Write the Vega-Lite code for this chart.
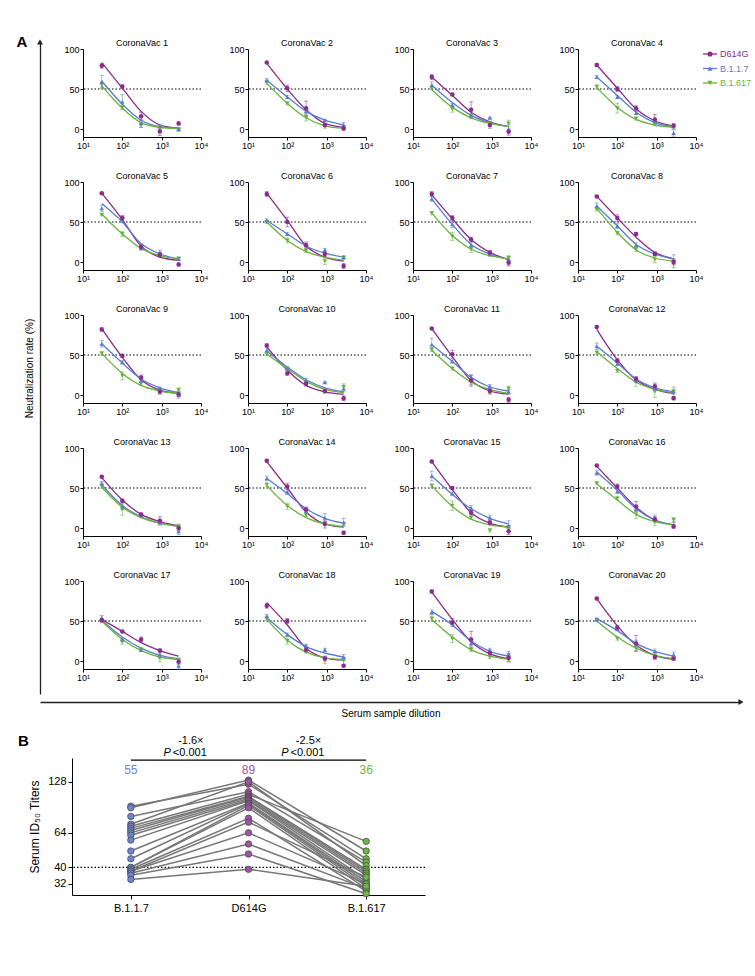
{
  "$schema": "https://vega.github.io/schema/vega-lite/v6.json",
  "padding": {"left": 16, "top": 35, "right": 5, "bottom": 5},
  "background": "white",
  "config": {
    "font": "Liberation Sans",
    "view": {"stroke": null},
    "axis": {"grid": false, "domainColor": "#000", "tickColor": "#000", "labelColor": "#000", "titleColor": "#000", "titleFontWeight": "normal", "labelFont": "Liberation Sans", "titleFont": "Liberation Sans"},
    "text": {"font": "Liberation Sans"}
  },
  "datasets": {
    "pts": [
      {"p":1,"v":"D614G","d":30,"y":79,"e":3,"f":83},{"p":1,"v":"D614G","d":100,"y":53,"e":2,"f":51},{"p":1,"v":"D614G","d":300,"y":16,"e":5,"f":22},{"p":1,"v":"D614G","d":900,"y":-3,"e":5,"f":5},{"p":1,"v":"D614G","d":2700,"y":7,"e":2,"f":1},
      {"p":1,"v":"B.1.1.7","d":30,"y":59,"e":8,"f":60},{"p":1,"v":"B.1.1.7","d":100,"y":34,"e":9,"f":31},{"p":1,"v":"B.1.1.7","d":300,"y":7,"e":5,"f":11},{"p":1,"v":"B.1.1.7","d":900,"y":3,"e":3,"f":3},{"p":1,"v":"B.1.1.7","d":2700,"y":0,"e":2,"f":1},
      {"p":1,"v":"B.1.617","d":30,"y":55,"e":3,"f":54},{"p":1,"v":"B.1.617","d":100,"y":27,"e":3,"f":26},{"p":1,"v":"B.1.617","d":300,"y":5,"e":3,"f":8},{"p":1,"v":"B.1.617","d":900,"y":2,"e":2,"f":2},{"p":1,"v":"B.1.617","d":2700,"y":-1,"e":2,"f":0.5},
      {"p":2,"v":"D614G","d":30,"y":83,"e":1,"f":82},{"p":2,"v":"D614G","d":100,"y":51,"e":4,"f":50},{"p":2,"v":"D614G","d":300,"y":26,"e":9,"f":24},{"p":2,"v":"D614G","d":900,"y":5,"e":2,"f":7},{"p":2,"v":"D614G","d":2700,"y":1,"e":3,"f":2},
      {"p":2,"v":"B.1.1.7","d":30,"y":61,"e":2,"f":61},{"p":2,"v":"B.1.1.7","d":100,"y":40,"e":2,"f":40},{"p":2,"v":"B.1.1.7","d":300,"y":22,"e":2,"f":22},{"p":2,"v":"B.1.1.7","d":900,"y":11,"e":1,"f":11},{"p":2,"v":"B.1.1.7","d":2700,"y":5,"e":3,"f":5},
      {"p":2,"v":"B.1.617","d":30,"y":58,"e":2,"f":57},{"p":2,"v":"B.1.617","d":100,"y":32,"e":2,"f":32},{"p":2,"v":"B.1.617","d":300,"y":14,"e":4,"f":14},{"p":2,"v":"B.1.617","d":900,"y":3,"e":2,"f":4},{"p":2,"v":"B.1.617","d":2700,"y":1,"e":2,"f":1},
      {"p":3,"v":"D614G","d":30,"y":65,"e":3,"f":65},{"p":3,"v":"D614G","d":100,"y":43,"e":1,"f":42},{"p":3,"v":"D614G","d":300,"y":24,"e":10,"f":21},{"p":3,"v":"D614G","d":900,"y":5,"e":4,"f":9},{"p":3,"v":"D614G","d":2700,"y":-3,"e":3,"f":3},
      {"p":3,"v":"B.1.1.7","d":30,"y":55,"e":4,"f":55},{"p":3,"v":"B.1.1.7","d":100,"y":30,"e":2,"f":33},{"p":3,"v":"B.1.1.7","d":300,"y":17,"e":2,"f":17},{"p":3,"v":"B.1.1.7","d":900,"y":14,"e":1,"f":8},{"p":3,"v":"B.1.1.7","d":2700,"y":-1,"e":7,"f":3},
      {"p":3,"v":"B.1.617","d":30,"y":51,"e":2,"f":49},{"p":3,"v":"B.1.617","d":100,"y":25,"e":4,"f":27},{"p":3,"v":"B.1.617","d":300,"y":16,"e":3,"f":14},{"p":3,"v":"B.1.617","d":900,"y":7,"e":3,"f":7},{"p":3,"v":"B.1.617","d":2700,"y":7,"e":4,"f":3},
      {"p":4,"v":"D614G","d":30,"y":80,"e":2,"f":80},{"p":4,"v":"D614G","d":100,"y":50,"e":3,"f":51},{"p":4,"v":"D614G","d":300,"y":26,"e":3,"f":25},{"p":4,"v":"D614G","d":900,"y":12,"e":6,"f":10},{"p":4,"v":"D614G","d":2700,"y":4,"e":3,"f":4},
      {"p":4,"v":"B.1.1.7","d":30,"y":65,"e":2,"f":65},{"p":4,"v":"B.1.1.7","d":100,"y":40,"e":2,"f":42},{"p":4,"v":"B.1.1.7","d":300,"y":20,"e":2,"f":21},{"p":4,"v":"B.1.1.7","d":900,"y":10,"e":2,"f":8},{"p":4,"v":"B.1.1.7","d":2700,"y":-5,"e":4,"f":3},
      {"p":4,"v":"B.1.617","d":30,"y":53,"e":2,"f":52},{"p":4,"v":"B.1.617","d":100,"y":26,"e":6,"f":27},{"p":4,"v":"B.1.617","d":300,"y":13,"e":2,"f":12},{"p":4,"v":"B.1.617","d":900,"y":6,"e":2,"f":5},{"p":4,"v":"B.1.617","d":2700,"y":2,"e":2,"f":2},
      {"p":5,"v":"D614G","d":30,"y":86,"e":1,"f":86},{"p":5,"v":"D614G","d":100,"y":55,"e":3,"f":53},{"p":5,"v":"D614G","d":300,"y":19,"e":2,"f":20},{"p":5,"v":"D614G","d":900,"y":9,"e":3,"f":6},{"p":5,"v":"D614G","d":2700,"y":-3,"e":2,"f":2},
      {"p":5,"v":"B.1.1.7","d":30,"y":67,"e":4,"f":73},{"p":5,"v":"B.1.1.7","d":100,"y":52,"e":3,"f":50},{"p":5,"v":"B.1.1.7","d":300,"y":17,"e":2,"f":23},{"p":5,"v":"B.1.1.7","d":900,"y":12,"e":3,"f":10},{"p":5,"v":"B.1.1.7","d":2700,"y":4,"e":2,"f":4},
      {"p":5,"v":"B.1.617","d":30,"y":59,"e":1,"f":60},{"p":5,"v":"B.1.617","d":100,"y":35,"e":3,"f":35},{"p":5,"v":"B.1.617","d":300,"y":19,"e":2,"f":17},{"p":5,"v":"B.1.617","d":900,"y":9,"e":2,"f":8},{"p":5,"v":"B.1.617","d":2700,"y":4,"e":2,"f":4},
      {"p":6,"v":"D614G","d":30,"y":85,"e":3,"f":86},{"p":6,"v":"D614G","d":100,"y":50,"e":6,"f":52},{"p":6,"v":"D614G","d":300,"y":21,"e":4,"f":20},{"p":6,"v":"D614G","d":900,"y":10,"e":3,"f":6},{"p":6,"v":"D614G","d":2700,"y":-5,"e":3,"f":1},
      {"p":6,"v":"B.1.1.7","d":30,"y":52,"e":2,"f":52},{"p":6,"v":"B.1.1.7","d":100,"y":35,"e":2,"f":35},{"p":6,"v":"B.1.1.7","d":300,"y":21,"e":2,"f":20},{"p":6,"v":"B.1.1.7","d":900,"y":15,"e":2,"f":11},{"p":6,"v":"B.1.1.7","d":2700,"y":6,"e":2,"f":6},
      {"p":6,"v":"B.1.617","d":30,"y":50,"e":2,"f":50},{"p":6,"v":"B.1.617","d":100,"y":27,"e":3,"f":27},{"p":6,"v":"B.1.617","d":300,"y":14,"e":2,"f":13},{"p":6,"v":"B.1.617","d":900,"y":1,"e":4,"f":6},{"p":6,"v":"B.1.617","d":2700,"y":5,"e":2,"f":2},
      {"p":7,"v":"D614G","d":30,"y":85,"e":3,"f":84},{"p":7,"v":"D614G","d":100,"y":55,"e":3,"f":54},{"p":7,"v":"D614G","d":300,"y":28,"e":3,"f":28},{"p":7,"v":"D614G","d":900,"y":12,"e":2,"f":12},{"p":7,"v":"D614G","d":2700,"y":-1,"e":4,"f":3},
      {"p":7,"v":"B.1.1.7","d":30,"y":79,"e":3,"f":79},{"p":7,"v":"B.1.1.7","d":100,"y":47,"e":4,"f":47},{"p":7,"v":"B.1.1.7","d":300,"y":21,"e":3,"f":22},{"p":7,"v":"B.1.1.7","d":900,"y":10,"e":2,"f":10},{"p":7,"v":"B.1.1.7","d":2700,"y":3,"e":3,"f":3},
      {"p":7,"v":"B.1.617","d":30,"y":61,"e":2,"f":61},{"p":7,"v":"B.1.617","d":100,"y":32,"e":5,"f":33},{"p":7,"v":"B.1.617","d":300,"y":16,"e":4,"f":16},{"p":7,"v":"B.1.617","d":900,"y":9,"e":2,"f":8},{"p":7,"v":"B.1.617","d":2700,"y":5,"e":3,"f":4},
      {"p":8,"v":"D614G","d":30,"y":82,"e":1,"f":82},{"p":8,"v":"D614G","d":100,"y":55,"e":4,"f":55},{"p":8,"v":"D614G","d":300,"y":35,"e":2,"f":31},{"p":8,"v":"D614G","d":900,"y":10,"e":2,"f":12},{"p":8,"v":"D614G","d":2700,"y":0,"e":3,"f":4},
      {"p":8,"v":"B.1.1.7","d":30,"y":70,"e":4,"f":70},{"p":8,"v":"B.1.1.7","d":100,"y":45,"e":3,"f":45},{"p":8,"v":"B.1.1.7","d":300,"y":21,"e":3,"f":22},{"p":8,"v":"B.1.1.7","d":900,"y":11,"e":2,"f":10},{"p":8,"v":"B.1.1.7","d":2700,"y":1,"e":8,"f":4},
      {"p":8,"v":"B.1.617","d":30,"y":66,"e":2,"f":67},{"p":8,"v":"B.1.617","d":100,"y":36,"e":2,"f":37},{"p":8,"v":"B.1.617","d":300,"y":16,"e":3,"f":15},{"p":8,"v":"B.1.617","d":900,"y":3,"e":4,"f":5},{"p":8,"v":"B.1.617","d":2700,"y":0,"e":4,"f":1},
      {"p":9,"v":"D614G","d":30,"y":82,"e":2,"f":83},{"p":9,"v":"D614G","d":100,"y":49,"e":2,"f":47},{"p":9,"v":"D614G","d":300,"y":22,"e":3,"f":19},{"p":9,"v":"D614G","d":900,"y":4,"e":3,"f":6},{"p":9,"v":"D614G","d":2700,"y":1,"e":3,"f":2},
      {"p":9,"v":"B.1.1.7","d":30,"y":64,"e":4,"f":64},{"p":9,"v":"B.1.1.7","d":100,"y":41,"e":2,"f":40},{"p":9,"v":"B.1.1.7","d":300,"y":18,"e":2,"f":20},{"p":9,"v":"B.1.1.7","d":900,"y":8,"e":2,"f":9},{"p":9,"v":"B.1.1.7","d":2700,"y":0,"e":4,"f":3},
      {"p":9,"v":"B.1.617","d":30,"y":52,"e":2,"f":52},{"p":9,"v":"B.1.617","d":100,"y":24,"e":5,"f":27},{"p":9,"v":"B.1.617","d":300,"y":14,"e":2,"f":12},{"p":9,"v":"B.1.617","d":900,"y":6,"e":2,"f":5},{"p":9,"v":"B.1.617","d":2700,"y":6,"e":3,"f":2},
      {"p":10,"v":"D614G","d":30,"y":62,"e":2,"f":60},{"p":10,"v":"D614G","d":100,"y":27,"e":2,"f":31},{"p":10,"v":"D614G","d":300,"y":14,"e":3,"f":12},{"p":10,"v":"D614G","d":900,"y":5,"e":2,"f":4},{"p":10,"v":"D614G","d":2700,"y":-4,"e":3,"f":1},
      {"p":10,"v":"B.1.1.7","d":30,"y":56,"e":3,"f":55},{"p":10,"v":"B.1.1.7","d":100,"y":33,"e":2,"f":35},{"p":10,"v":"B.1.1.7","d":300,"y":18,"e":3,"f":19},{"p":10,"v":"B.1.1.7","d":900,"y":16,"e":1,"f":9},{"p":10,"v":"B.1.1.7","d":2700,"y":8,"e":4,"f":4},
      {"p":10,"v":"B.1.617","d":30,"y":51,"e":2,"f":51},{"p":10,"v":"B.1.617","d":100,"y":33,"e":2,"f":33},{"p":10,"v":"B.1.617","d":300,"y":16,"e":2,"f":17},{"p":10,"v":"B.1.617","d":900,"y":4,"e":2,"f":7},{"p":10,"v":"B.1.617","d":2700,"y":10,"e":4,"f":3},
      {"p":11,"v":"D614G","d":30,"y":83,"e":1,"f":83},{"p":11,"v":"D614G","d":100,"y":51,"e":5,"f":48},{"p":11,"v":"D614G","d":300,"y":18,"e":7,"f":18},{"p":11,"v":"D614G","d":900,"y":5,"e":3,"f":5},{"p":11,"v":"D614G","d":2700,"y":-6,"e":3,"f":1},
      {"p":11,"v":"B.1.1.7","d":30,"y":63,"e":8,"f":63},{"p":11,"v":"B.1.1.7","d":100,"y":42,"e":2,"f":42},{"p":11,"v":"B.1.1.7","d":300,"y":22,"e":3,"f":22},{"p":11,"v":"B.1.1.7","d":900,"y":11,"e":2,"f":10},{"p":11,"v":"B.1.1.7","d":2700,"y":4,"e":3,"f":5},
      {"p":11,"v":"B.1.617","d":30,"y":57,"e":2,"f":56},{"p":11,"v":"B.1.617","d":100,"y":33,"e":2,"f":33},{"p":11,"v":"B.1.617","d":300,"y":16,"e":3,"f":16},{"p":11,"v":"B.1.617","d":900,"y":4,"e":3,"f":7},{"p":11,"v":"B.1.617","d":2700,"y":8,"e":3,"f":2},
      {"p":12,"v":"D614G","d":30,"y":85,"e":1,"f":82},{"p":12,"v":"D614G","d":100,"y":43,"e":2,"f":44},{"p":12,"v":"D614G","d":300,"y":20,"e":3,"f":19},{"p":12,"v":"D614G","d":900,"y":11,"e":4,"f":7},{"p":12,"v":"D614G","d":2700,"y":-4,"e":2,"f":2},
      {"p":12,"v":"B.1.1.7","d":30,"y":61,"e":4,"f":61},{"p":12,"v":"B.1.1.7","d":100,"y":39,"e":2,"f":40},{"p":12,"v":"B.1.1.7","d":300,"y":18,"e":2,"f":20},{"p":12,"v":"B.1.1.7","d":900,"y":8,"e":2,"f":9},{"p":12,"v":"B.1.1.7","d":2700,"y":4,"e":6,"f":4},
      {"p":12,"v":"B.1.617","d":30,"y":53,"e":2,"f":54},{"p":12,"v":"B.1.617","d":100,"y":30,"e":2,"f":33},{"p":12,"v":"B.1.617","d":300,"y":16,"e":5,"f":16},{"p":12,"v":"B.1.617","d":900,"y":4,"e":7,"f":7},{"p":12,"v":"B.1.617","d":2700,"y":4,"e":3,"f":3},
      {"p":13,"v":"D614G","d":30,"y":64,"e":1,"f":63},{"p":13,"v":"D614G","d":100,"y":34,"e":2,"f":35},{"p":13,"v":"D614G","d":300,"y":17,"e":2,"f":17},{"p":13,"v":"D614G","d":900,"y":9,"e":5,"f":8},{"p":13,"v":"D614G","d":2700,"y":0,"e":3,"f":3},
      {"p":13,"v":"B.1.1.7","d":30,"y":56,"e":2,"f":54},{"p":13,"v":"B.1.1.7","d":100,"y":27,"e":4,"f":28},{"p":13,"v":"B.1.1.7","d":300,"y":16,"e":2,"f":14},{"p":13,"v":"B.1.1.7","d":900,"y":7,"e":2,"f":6},{"p":13,"v":"B.1.1.7","d":2700,"y":-4,"e":4,"f":2},
      {"p":13,"v":"B.1.617","d":30,"y":52,"e":2,"f":51},{"p":13,"v":"B.1.617","d":100,"y":23,"e":7,"f":26},{"p":13,"v":"B.1.617","d":300,"y":15,"e":2,"f":13},{"p":13,"v":"B.1.617","d":900,"y":6,"e":2,"f":6},{"p":13,"v":"B.1.617","d":2700,"y":2,"e":3,"f":2},
      {"p":14,"v":"D614G","d":30,"y":84,"e":1,"f":83},{"p":14,"v":"D614G","d":100,"y":52,"e":4,"f":50},{"p":14,"v":"D614G","d":300,"y":23,"e":3,"f":20},{"p":14,"v":"D614G","d":900,"y":5,"e":5,"f":5},{"p":14,"v":"D614G","d":2700,"y":-6,"e":2,"f":1},
      {"p":14,"v":"B.1.1.7","d":30,"y":62,"e":3,"f":62},{"p":14,"v":"B.1.1.7","d":100,"y":45,"e":3,"f":43},{"p":14,"v":"B.1.1.7","d":300,"y":21,"e":3,"f":24},{"p":14,"v":"B.1.1.7","d":900,"y":13,"e":5,"f":12},{"p":14,"v":"B.1.1.7","d":2700,"y":7,"e":5,"f":6},
      {"p":14,"v":"B.1.617","d":30,"y":54,"e":2,"f":53},{"p":14,"v":"B.1.617","d":100,"y":27,"e":4,"f":28},{"p":14,"v":"B.1.617","d":300,"y":16,"e":2,"f":13},{"p":14,"v":"B.1.617","d":900,"y":6,"e":2,"f":5},{"p":14,"v":"B.1.617","d":2700,"y":5,"e":2,"f":2},
      {"p":15,"v":"D614G","d":30,"y":83,"e":1,"f":83},{"p":15,"v":"D614G","d":100,"y":50,"e":2,"f":48},{"p":15,"v":"D614G","d":300,"y":19,"e":3,"f":19},{"p":15,"v":"D614G","d":900,"y":7,"e":3,"f":6},{"p":15,"v":"D614G","d":2700,"y":-4,"e":4,"f":1},
      {"p":15,"v":"B.1.1.7","d":30,"y":65,"e":6,"f":65},{"p":15,"v":"B.1.1.7","d":100,"y":43,"e":2,"f":42},{"p":15,"v":"B.1.1.7","d":300,"y":25,"e":3,"f":24},{"p":15,"v":"B.1.1.7","d":900,"y":13,"e":3,"f":12},{"p":15,"v":"B.1.1.7","d":2700,"y":3,"e":6,"f":5},
      {"p":15,"v":"B.1.617","d":30,"y":53,"e":2,"f":53},{"p":15,"v":"B.1.617","d":100,"y":28,"e":6,"f":27},{"p":15,"v":"B.1.617","d":300,"y":13,"e":2,"f":11},{"p":15,"v":"B.1.617","d":900,"y":-3,"e":2,"f":4},{"p":15,"v":"B.1.617","d":2700,"y":1,"e":2,"f":1},
      {"p":16,"v":"D614G","d":30,"y":78,"e":1,"f":77},{"p":16,"v":"D614G","d":100,"y":52,"e":3,"f":50},{"p":16,"v":"D614G","d":300,"y":27,"e":6,"f":26},{"p":16,"v":"D614G","d":900,"y":11,"e":3,"f":10},{"p":16,"v":"D614G","d":2700,"y":2,"e":2,"f":4},
      {"p":16,"v":"B.1.1.7","d":30,"y":69,"e":3,"f":70},{"p":16,"v":"B.1.1.7","d":100,"y":46,"e":3,"f":47},{"p":16,"v":"B.1.1.7","d":300,"y":24,"e":3,"f":24},{"p":16,"v":"B.1.1.7","d":900,"y":12,"e":4,"f":10},{"p":16,"v":"B.1.1.7","d":2700,"y":4,"e":4,"f":4},
      {"p":16,"v":"B.1.617","d":30,"y":56,"e":1,"f":55},{"p":16,"v":"B.1.617","d":100,"y":37,"e":2,"f":35},{"p":16,"v":"B.1.617","d":300,"y":17,"e":5,"f":17},{"p":16,"v":"B.1.617","d":900,"y":7,"e":4,"f":8},{"p":16,"v":"B.1.617","d":2700,"y":10,"e":3,"f":4},
      {"p":17,"v":"D614G","d":30,"y":51,"e":2,"f":52},{"p":17,"v":"D614G","d":100,"y":37,"e":1,"f":37},{"p":17,"v":"D614G","d":300,"y":27,"e":3,"f":23},{"p":17,"v":"D614G","d":900,"y":13,"e":2,"f":13},{"p":17,"v":"D614G","d":2700,"y":-1,"e":3,"f":6},
      {"p":17,"v":"B.1.1.7","d":30,"y":54,"e":3,"f":51},{"p":17,"v":"B.1.1.7","d":100,"y":27,"e":2,"f":30},{"p":17,"v":"B.1.1.7","d":300,"y":14,"e":2,"f":16},{"p":17,"v":"B.1.1.7","d":900,"y":8,"e":2,"f":7},{"p":17,"v":"B.1.1.7","d":2700,"y":-6,"e":4,"f":3},
      {"p":17,"v":"B.1.617","d":30,"y":50,"e":2,"f":50},{"p":17,"v":"B.1.617","d":100,"y":24,"e":3,"f":27},{"p":17,"v":"B.1.617","d":300,"y":14,"e":2,"f":13},{"p":17,"v":"B.1.617","d":900,"y":3,"e":4,"f":5},{"p":17,"v":"B.1.617","d":2700,"y":1,"e":3,"f":2},
      {"p":18,"v":"D614G","d":30,"y":69,"e":3,"f":73},{"p":18,"v":"D614G","d":100,"y":50,"e":3,"f":45},{"p":18,"v":"D614G","d":300,"y":14,"e":3,"f":16},{"p":18,"v":"D614G","d":900,"y":3,"e":3,"f":4},{"p":18,"v":"D614G","d":2700,"y":-6,"e":1,"f":1},
      {"p":18,"v":"B.1.1.7","d":30,"y":56,"e":2,"f":54},{"p":18,"v":"B.1.1.7","d":100,"y":33,"e":2,"f":33},{"p":18,"v":"B.1.1.7","d":300,"y":19,"e":2,"f":18},{"p":18,"v":"B.1.1.7","d":900,"y":14,"e":2,"f":10},{"p":18,"v":"B.1.1.7","d":2700,"y":5,"e":3,"f":5},
      {"p":18,"v":"B.1.617","d":30,"y":53,"e":2,"f":52},{"p":18,"v":"B.1.617","d":100,"y":25,"e":4,"f":26},{"p":18,"v":"B.1.617","d":300,"y":12,"e":2,"f":11},{"p":18,"v":"B.1.617","d":900,"y":1,"e":4,"f":4},{"p":18,"v":"B.1.617","d":2700,"y":0,"e":4,"f":2},
      {"p":19,"v":"D614G","d":30,"y":87,"e":2,"f":86},{"p":19,"v":"D614G","d":100,"y":48,"e":5,"f":52},{"p":19,"v":"D614G","d":300,"y":27,"e":10,"f":24},{"p":19,"v":"D614G","d":900,"y":10,"e":4,"f":9},{"p":19,"v":"D614G","d":2700,"y":4,"e":5,"f":3},
      {"p":19,"v":"B.1.1.7","d":30,"y":61,"e":3,"f":62},{"p":19,"v":"B.1.1.7","d":100,"y":48,"e":3,"f":45},{"p":19,"v":"B.1.1.7","d":300,"y":22,"e":3,"f":25},{"p":19,"v":"B.1.1.7","d":900,"y":13,"e":3,"f":12},{"p":19,"v":"B.1.1.7","d":2700,"y":9,"e":3,"f":6},
      {"p":19,"v":"B.1.617","d":30,"y":53,"e":3,"f":52},{"p":19,"v":"B.1.617","d":100,"y":28,"e":5,"f":30},{"p":19,"v":"B.1.617","d":300,"y":14,"e":2,"f":14},{"p":19,"v":"B.1.617","d":900,"y":5,"e":2,"f":6},{"p":19,"v":"B.1.617","d":2700,"y":1,"e":2,"f":2},
      {"p":20,"v":"D614G","d":30,"y":78,"e":1,"f":78},{"p":20,"v":"D614G","d":100,"y":42,"e":2,"f":44},{"p":20,"v":"D614G","d":300,"y":22,"e":10,"f":20},{"p":20,"v":"D614G","d":900,"y":5,"e":3,"f":7},{"p":20,"v":"D614G","d":2700,"y":3,"e":2,"f":2},
      {"p":20,"v":"B.1.1.7","d":30,"y":52,"e":2,"f":53},{"p":20,"v":"B.1.1.7","d":100,"y":40,"e":2,"f":38},{"p":20,"v":"B.1.1.7","d":300,"y":22,"e":4,"f":22},{"p":20,"v":"B.1.1.7","d":900,"y":12,"e":3,"f":12},{"p":20,"v":"B.1.1.7","d":2700,"y":8,"e":3,"f":6},
      {"p":20,"v":"B.1.617","d":30,"y":51,"e":2,"f":50},{"p":20,"v":"B.1.617","d":100,"y":28,"e":2,"f":30},{"p":20,"v":"B.1.617","d":300,"y":16,"e":3,"f":16},{"p":20,"v":"B.1.617","d":900,"y":6,"e":2,"f":7},{"p":20,"v":"B.1.617","d":2700,"y":3,"e":2,"f":3}
    ],
    "titers": [
      {"s":1,"v":"B.1.1.7","t":92},{"s":1,"v":"D614G","t":124},{"s":1,"v":"B.1.617","t":45},
      {"s":2,"v":"B.1.1.7","t":90},{"s":2,"v":"D614G","t":131},{"s":2,"v":"B.1.617","t":50},
      {"s":3,"v":"B.1.1.7","t":80},{"s":3,"v":"D614G","t":112},{"s":3,"v":"B.1.617","t":43},
      {"s":4,"v":"B.1.1.7","t":72},{"s":4,"v":"D614G","t":128},{"s":4,"v":"B.1.617","t":41},
      {"s":5,"v":"B.1.1.7","t":70},{"s":5,"v":"D614G","t":108},{"s":5,"v":"B.1.617","t":57},
      {"s":6,"v":"B.1.1.7","t":68},{"s":6,"v":"D614G","t":105},{"s":6,"v":"B.1.617","t":39},
      {"s":7,"v":"B.1.1.7","t":66},{"s":7,"v":"D614G","t":104},{"s":7,"v":"B.1.617","t":38},
      {"s":8,"v":"B.1.1.7","t":64},{"s":8,"v":"D614G","t":102},{"s":8,"v":"B.1.617","t":37},
      {"s":9,"v":"B.1.1.7","t":62},{"s":9,"v":"D614G","t":100},{"s":9,"v":"B.1.617","t":36},
      {"s":10,"v":"B.1.1.7","t":58},{"s":10,"v":"D614G","t":99},{"s":10,"v":"B.1.617","t":34},
      {"s":11,"v":"B.1.1.7","t":50},{"s":11,"v":"D614G","t":96},{"s":11,"v":"B.1.617","t":33},
      {"s":12,"v":"B.1.1.7","t":45},{"s":12,"v":"D614G","t":95},{"s":12,"v":"B.1.617","t":32},
      {"s":13,"v":"B.1.1.7","t":40},{"s":13,"v":"D614G","t":93},{"s":13,"v":"B.1.617","t":31},
      {"s":14,"v":"B.1.1.7","t":40},{"s":14,"v":"D614G","t":90},{"s":14,"v":"B.1.617","t":30},
      {"s":15,"v":"B.1.1.7","t":39},{"s":15,"v":"D614G","t":78},{"s":15,"v":"B.1.617","t":29},
      {"s":16,"v":"B.1.1.7","t":38},{"s":16,"v":"D614G","t":74},{"s":16,"v":"B.1.617","t":35},
      {"s":17,"v":"B.1.1.7","t":38},{"s":17,"v":"D614G","t":64},{"s":17,"v":"B.1.617","t":32},
      {"s":18,"v":"B.1.1.7","t":37},{"s":18,"v":"D614G","t":55},{"s":18,"v":"B.1.617","t":30},
      {"s":19,"v":"B.1.1.7","t":36},{"s":19,"v":"D614G","t":48},{"s":19,"v":"B.1.617","t":28},
      {"s":20,"v":"B.1.1.7","t":34},{"s":20,"v":"D614G","t":39},{"s":20,"v":"B.1.617","t":31}
    ]
  },
  "concat": [
    {
      "concat": [
        {
          "spacing": -21,
          "hconcat": [
            {
              "width": 43,
              "height": 645,
              "data": {"values": [{"k": "A"}]},
              "encoding": {
                "x": {"datum": 0, "type": "quantitative", "scale": {"domain": [0, 1]}, "axis": null},
                "y": {"datum": 1, "type": "quantitative", "scale": {"domain": [0, 1], "nice": false, "range": [645, -7]},
                  "axis": {"orient": "left", "domain": true, "domainWidth": 1.3, "domainColor": "#222", "ticks": false, "labels": false, "grid": false, "title": "Neutralization rate (%)", "titleFontSize": 10, "titlePadding": 6}}
              },
              "layer": [
                {"mark": {"type": "point", "shape": "triangle-up", "filled": true, "color": "#222", "size": 35, "opacity": 1}},
                {"mark": {"type": "text", "fontSize": 15, "fontWeight": "bold", "dx": -18, "color": "#000"}, "encoding": {"text": {"field": "k"}}}
              ]
            },
            {
              "data": {"name": "pts"},
              "columns": 4,
              "spacing": {"row": 22, "column": 20},
              "facet": {"field": "p", "type": "ordinal", "title": null,
                "header": {"labelExpr": "'CoronaVac ' + datum.value", "labelFontSize": 9, "labelPadding": -3, "labelFont": "Liberation Sans", "labelColor": "#000"}},
              "spec": {
                "width": 118,
                "height": 88,
                "encoding": {
                  "x": {"field": "d", "type": "quantitative", "scale": {"type": "log", "domain": [10, 10000]},
                    "axis": {"values": [10, 100, 1000, 10000], "labelExpr": "'10' + ['⁰','¹','²','³','⁴'][round(log(datum.value)/LN10)]", "title": null, "tickSize": 3, "labelPadding": 1, "labelFontSize": 9, "labelFlush": false, "labelOverlap": false}},
                  "color": {"field": "v", "type": "nominal", "scale": {"domain": ["D614G", "B.1.1.7", "B.1.617"], "range": ["#8B2B8C", "#5A7DCF", "#68B33C"]}, "legend": null}
                },
                "layer": [
                  {
                    "transform": [{"filter": "datum.d == 30 && datum.v == 'D614G'"}],
                    "mark": {"type": "rule", "strokeDash": [1.5, 2], "color": "#000", "strokeWidth": 1},
                    "encoding": {"x": null, "color": null, "y": {"datum": 50, "type": "quantitative"}}
                  },
                  {
                    "mark": {"type": "line", "interpolate": "monotone", "strokeWidth": 1.3},
                    "encoding": {
                      "y": {"field": "f", "type": "quantitative", "scale": {"domain": [-10, 100], "nice": false},
                        "axis": {"values": [0, 25, 50, 75, 100], "title": null, "tickSize": 3, "labelPadding": 1, "labelFontSize": 9}}
                    }
                  },
                  {
                    "mark": {"type": "errorbar", "ticks": {"size": 4, "opacity": 0.55}, "rule": {"opacity": 0.55}, "thickness": 1},
                    "encoding": {
                      "y": {"field": "y", "type": "quantitative"},
                      "yError": {"field": "e"}
                    }
                  },
                  {
                    "transform": [{"filter": "datum.v == 'B.1.617'"}],
                    "mark": {"type": "point", "filled": true, "shape": "triangle-down", "size": 20, "opacity": 1},
                    "encoding": {"y": {"field": "y", "type": "quantitative"}}
                  },
                  {
                    "transform": [{"filter": "datum.v == 'B.1.1.7'"}],
                    "mark": {"type": "point", "filled": true, "shape": "triangle-up", "size": 20, "opacity": 1},
                    "encoding": {"y": {"field": "y", "type": "quantitative"}}
                  },
                  {
                    "transform": [{"filter": "datum.v == 'D614G'"}],
                    "mark": {"type": "point", "filled": true, "shape": "circle", "size": 20, "opacity": 1},
                    "encoding": {"y": {"field": "y", "type": "quantitative"}}
                  }
                ]
              },
              "resolve": {"axis": {"x": "independent", "y": "independent"}}
            },
            {
              "width": 52,
              "height": 40,
              "data": {"values": [{"v": "D614G"}, {"v": "B.1.1.7"}, {"v": "B.1.617"}]},
              "encoding": {
                "y": {"field": "v", "type": "nominal", "scale": {"type": "point", "padding": 0, "domain": ["D614G", "B.1.1.7", "B.1.617"], "range": [5, 34]}, "axis": null},
                "color": {"field": "v", "type": "nominal", "scale": {"domain": ["D614G", "B.1.1.7", "B.1.617"], "range": ["#8B2B8C", "#5A7DCF", "#68B33C"]}, "legend": null}
              },
              "layer": [
                {
                  "mark": {"type": "rule", "strokeWidth": 1.3},
                  "encoding": {"x": {"datum": 0, "type": "quantitative", "scale": {"domain": [0, 52], "nice": false}, "axis": null}, "x2": {"datum": 14}}
                },
                {
                  "mark": {"type": "point", "filled": true, "size": 26, "opacity": 1},
                  "encoding": {"x": {"datum": 7, "type": "quantitative"},
                    "shape": {"field": "v", "type": "nominal", "scale": {"domain": ["D614G", "B.1.1.7", "B.1.617"], "range": ["circle", "triangle-up", "triangle-down"]}, "legend": null}}
                },
                {
                  "mark": {"type": "text", "align": "left", "baseline": "middle", "fontSize": 9},
                  "encoding": {"x": {"datum": 17, "type": "quantitative"}, "text": {"field": "v"}}
                }
              ]
            }
          ]
        },
        {
          "width": 701,
          "height": 1,
          "data": {"values": [{"k": "A"}]},
          "layer": [
            {
              "mark": {"type": "point", "shape": "triangle-right", "filled": true, "color": "#222", "size": 35, "opacity": 1},
              "encoding": {
                "x": {"datum": 1, "type": "quantitative", "scale": {"domain": [0, 1], "nice": false},
                  "axis": {"orient": "bottom", "domain": true, "domainWidth": 1.3, "domainColor": "#222", "ticks": false, "labels": false, "grid": false, "title": "Serum sample dilution", "titleFontSize": 10, "titlePadding": 6}},
                "y": {"datum": 0, "type": "quantitative", "scale": {"domain": [0, 1]}, "axis": null}
              }
            }
          ]
        }
      ],
      "columns": 1,
      "spacing": -4
    },
    {
      "spacing": -13,
      "hconcat": [
        {
          "width": 1,
          "height": 137,
          "data": {"values": [{"lab": "B"}]},
          "mark": {"type": "text", "fontSize": 15, "fontWeight": "bold", "dx": -17, "dy": -17, "color": "#000"},
          "encoding": {"y": {"datum": 1, "type": "quantitative", "scale": {"domain": [0, 1]}, "axis": null}, "text": {"field": "lab"}}
        },
        {
          "width": 353,
          "height": 137,
          "data": {"name": "titers"},
          "encoding": {
            "x": {"field": "v", "type": "nominal", "scale": {"type": "point", "padding": 0.5, "domain": ["B.1.1.7", "D614G", "B.1.617"]},
              "axis": {"title": null, "labelAngle": 0, "labelFontSize": 11, "tickSize": 4, "labelPadding": 3}}
          },
          "layer": [
            {
              "transform": [{"filter": "datum.s == 1 && datum.v == 'D614G'"}],
              "mark": {"type": "rule", "strokeDash": [1.5, 2], "color": "#000", "strokeWidth": 1.2},
              "encoding": {"x": null, "y": {"datum": 40, "type": "quantitative"}}
            },
            {
              "mark": {"type": "line", "color": "#777", "strokeWidth": 1.5},
              "encoding": {
                "y": {"field": "t", "type": "quantitative", "scale": {"type": "log", "base": 2, "domain": [27.5, 177], "nice": false},
                  "axis": {"values": [32, 40, 64, 128], "title": "Serum ID₅₀ Titers", "titleFontSize": 12, "labelFontSize": 11, "tickSize": 4, "titlePadding": 6}},
                "detail": {"field": "s"}
              }
            },
            {
              "mark": {"type": "point", "shape": "circle", "filled": true, "size": 42, "stroke": "#444", "strokeWidth": 0.7, "opacity": 1},
              "encoding": {
                "y": {"field": "t", "type": "quantitative"},
                "fill": {"field": "v", "type": "nominal", "scale": {"domain": ["B.1.1.7", "D614G", "B.1.617"], "range": ["#6D87CF", "#9B56A0", "#6DB544"]}, "legend": null}
              }
            },
            {
              "data": {"values": [{"v": "B.1.1.7", "g": "55"}, {"v": "D614G", "g": "89"}, {"v": "B.1.617", "g": "36"}]},
              "mark": {"type": "text", "fontSize": 12},
              "encoding": {"y": {"datum": 150, "type": "quantitative"}, "text": {"field": "g"}, "fill": {"field": "v", "type": "nominal"}}
            },
            {
              "data": {"values": [{"v": "B.1.1.7", "b": "D614G"}, {"v": "D614G", "b": "B.1.617"}]},
              "mark": {"type": "rule", "color": "#000", "strokeWidth": 1.3},
              "encoding": {"x2": {"field": "b"}, "y": {"datum": 172, "type": "quantitative"}}
            },
            {
              "data": {"values": [{"v": "B.1.1.7", "lab": "-1.6×"}, {"v": "D614G", "lab": "-2.5×"}]},
              "mark": {"type": "text", "fontSize": 11, "dx": 60, "color": "#000"},
              "encoding": {"y": {"datum": 223, "type": "quantitative"}, "text": {"field": "lab"}}
            },
            {
              "data": {"values": [{"v": "B.1.1.7", "lab": "P"}, {"v": "D614G", "lab": "P"}]},
              "mark": {"type": "text", "fontSize": 11, "fontStyle": "italic", "dx": 40, "align": "right", "color": "#000"},
              "encoding": {"y": {"datum": 190, "type": "quantitative"}, "text": {"field": "lab"}}
            },
            {
              "data": {"values": [{"v": "B.1.1.7", "lab": "<0.001"}, {"v": "D614G", "lab": "<0.001"}]},
              "mark": {"type": "text", "fontSize": 11, "dx": 42, "align": "left", "color": "#000"},
              "encoding": {"y": {"datum": 190, "type": "quantitative"}, "text": {"field": "lab"}}
            }
          ]
        }
      ]
    }
  ],
  "columns": 1,
  "spacing": 16
}
